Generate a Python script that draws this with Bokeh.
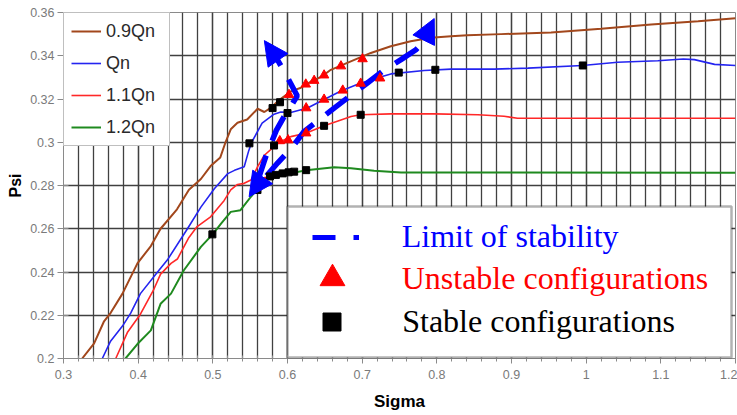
from bokeh.plotting import figure
from bokeh.models import (ColumnDataSource, Legend, LegendItem, FixedTicker,
                          CustomJSTickFormatter, Arrow, NormalHead, BoxAnnotation, Range1d)
from bokeh.embed import file_html
from bokeh.resources import INLINE

# ---------------- data ----------------
q09_x = [0.325, 0.341, 0.354, 0.363, 0.379, 0.399, 0.417, 0.430, 0.452, 0.468, 0.484, 0.497,
         0.510, 0.517, 0.524, 0.533, 0.546, 0.560, 0.569, 0.578, 0.587, 0.6044, 0.618, 0.6313, 0.645,
         0.658, 0.6848, 0.7116, 0.7384, 0.765, 0.792, 0.819, 0.841, 0.886, 0.953, 1.020, 1.087, 1.150, 1.200]
q09_y = [0.200, 0.207, 0.217, 0.221, 0.230, 0.244, 0.252, 0.260, 0.269, 0.278, 0.283, 0.289,
         0.293, 0.300, 0.306, 0.309, 0.3105, 0.3155, 0.3140, 0.316, 0.319, 0.3235, 0.3252, 0.3281, 0.3302,
         0.3335, 0.3374, 0.3413, 0.3444, 0.3467, 0.3483, 0.3490, 0.3495, 0.3500, 0.3508, 0.3525, 0.3545, 0.356, 0.3573]

q10_x = [0.352, 0.363, 0.379, 0.390, 0.403, 0.426, 0.439, 0.466, 0.484, 0.502, 0.520, 0.529,
         0.542, 0.548, 0.552, 0.566, 0.582, 0.591, 0.6044, 0.6268, 0.649, 0.6716, 0.694, 0.716,
         0.7385, 0.783, 0.819, 0.877, 0.922, 0.995, 1.042, 1.096, 1.130, 1.145, 1.172, 1.200]
q10_y = [0.200, 0.208, 0.215, 0.221, 0.230, 0.240, 0.2455, 0.260, 0.270, 0.2785, 0.2855, 0.287,
         0.2887, 0.296, 0.300, 0.3088, 0.3130, 0.3140, 0.3138, 0.3158, 0.3198, 0.3237, 0.3268, 0.3294,
         0.3316, 0.3332, 0.3338, 0.3338, 0.3343, 0.3355, 0.3370, 0.3377, 0.3385, 0.3382, 0.3360, 0.3355]

q11_x = [0.370, 0.3855, 0.403, 0.421, 0.430, 0.444, 0.4525, 0.468, 0.479, 0.497, 0.515, 0.524,
         0.533, 0.542, 0.551, 0.560, 0.569, 0.582, 0.589, 0.6044, 0.6245, 0.649, 0.6716,
         0.685, 0.698, 0.7385, 0.797, 0.855, 0.890, 0.908, 1.200]
q11_y = [0.200, 0.212, 0.2205, 0.232, 0.239, 0.244, 0.246, 0.256, 0.261, 0.2655, 0.273, 0.278,
         0.2805, 0.281, 0.2825, 0.2887, 0.294, 0.298, 0.300, 0.3026, 0.3042, 0.3076, 0.3103,
         0.3119, 0.3127, 0.3131, 0.3131, 0.3127, 0.3120, 0.3111, 0.3111]

q12_x = [0.383, 0.399, 0.417, 0.430, 0.444, 0.461, 0.484, 0.500, 0.511, 0.524, 0.537, 0.551,
         0.560, 0.570, 0.578, 0.604, 0.625, 0.6625, 0.685, 0.716, 0.752, 1.200]
q12_y = [0.200, 0.2067, 0.213, 0.2253, 0.230, 0.2407, 0.2516, 0.2575, 0.2624, 0.2678, 0.2686, 0.2748,
         0.2785, 0.2830, 0.2845, 0.2856, 0.2871, 0.2884, 0.2880, 0.2868, 0.2860, 0.2859]

unstable_x = [0.602, 0.6245, 0.6357, 0.649, 0.6716, 0.7005,
              0.625, 0.649, 0.674, 0.698, 0.724,
              0.5897, 0.6008, 0.625,
              0.570]
unstable_y = [0.3220, 0.3268, 0.3285, 0.3310, 0.3352, 0.3385,
              0.3158, 0.3198, 0.3240, 0.3272, 0.3296,
              0.3006, 0.3010, 0.3042,
              0.2815]

stable_x = [0.580, 0.590,
            0.549, 0.600, 0.749, 0.798, 0.9955,
            0.582, 0.649, 0.698,
            0.4994, 0.5598, 0.5765, 0.5845, 0.5935, 0.6015, 0.6089, 0.625]
stable_y = [0.3158, 0.3185,
            0.2995, 0.3135, 0.3322, 0.3335, 0.3355,
            0.2985, 0.3076, 0.3127,
            0.2574, 0.2779, 0.2842, 0.2849, 0.2856, 0.2861, 0.2864, 0.2871]

limit_a_x = [0.560, 0.571, 0.585, 0.598, 0.607, 0.613, 0.598, 0.586]
limit_a_y = [0.282, 0.2935, 0.3055, 0.3135, 0.318, 0.3215, 0.3312, 0.3385]
limit_b_x = [0.572, 0.587, 0.607, 0.622, 0.6625, 0.680, 0.707, 0.727, 0.752, 0.772, 0.780]
limit_b_y = [0.2845, 0.2905, 0.298, 0.3049, 0.3158, 0.3204, 0.3274, 0.3328, 0.3382, 0.3428, 0.3455]
arrow_x_start = [0.586, 0.780, 0.566]
arrow_y_start = [0.3385, 0.3455, 0.2836]
arrow_x_end = [0.569, 0.7965, 0.5486]
arrow_y_end = [0.3470, 0.3572, 0.2748]

x_ticks = [0.3, 0.4, 0.5, 0.6, 0.7, 0.8, 0.9, 1.0, 1.1, 1.2]
y_ticks = [0.2, 0.22, 0.24, 0.26, 0.28, 0.3, 0.32, 0.34, 0.36]
x_minor = [round(0.3 + 0.02 * i, 2) for i in range(46)]

series_labels = ["0.9Qn", "Qn", "1.1Qn", "1.2Qn"]
series_colors = ["#A2471C", "#2424F0", "#FF2828", "#1F8A1F"]

# ---------------- figure ----------------
p = figure(width=737, height=415, output_backend="svg", toolbar_location=None,
           x_range=Range1d(0.3, 1.2), y_range=Range1d(0.2, 0.36),
           min_border_left=63, min_border_right=2, min_border_top=12, min_border_bottom=57)
p.background_fill_color = "white"
p.border_fill_color = "white"
p.outline_line_color = "#8a8a8a"

fmt = CustomJSTickFormatter(code="return String(Number(tick.toFixed(2)));")
xt = FixedTicker(ticks=x_ticks, minor_ticks=x_minor)
yt = FixedTicker(ticks=y_ticks, minor_ticks=[])
p.xaxis.ticker = xt
p.yaxis.ticker = yt
p.xgrid.ticker = xt
p.ygrid.ticker = yt
p.xaxis.formatter = fmt
p.yaxis.formatter = fmt

for g in (p.xgrid, p.ygrid):
    g.grid_line_color = "#404040"
    g.grid_line_width = 1.3
p.xgrid.minor_grid_line_color = "#404040"
p.xgrid.minor_grid_line_width = 1.3

for ax in (p.xaxis, p.yaxis):
    ax.axis_line_color = "#8a8a8a"
    ax.major_tick_line_color = "#8a8a8a"
    ax.minor_tick_line_color = "#8a8a8a"
    ax.major_label_text_color = "#7a7a7a"
    ax.major_label_text_font = "Liberation Sans"
    ax.major_label_text_font_size = "12.5px"
    ax.axis_label_text_font = "Liberation Sans"
    ax.axis_label_text_font_style = "bold"
    ax.axis_label_text_color = "black"

p.xaxis.major_tick_in = 3
p.xaxis.major_tick_out = 5
p.xaxis.minor_tick_in = 3
p.xaxis.minor_tick_out = 3
p.xaxis.major_label_standoff = 6
p.xaxis.axis_label = "Sigma"
p.xaxis.axis_label_text_font_size = "17px"
p.xaxis.axis_label_standoff = 10

p.yaxis.major_tick_in = 5
p.yaxis.major_tick_out = 6
p.yaxis.minor_tick_in = 0
p.yaxis.minor_tick_out = 0
p.yaxis.major_label_standoff = 3
p.yaxis.axis_label = "Psi"
p.yaxis.axis_label_text_font_size = "16px"
p.yaxis.axis_label_standoff = 3

# curves
series = [(q09_x, q09_y, 2.0), (q10_x, q10_y, 1.6), (q11_x, q11_y, 1.6), (q12_x, q12_y, 2.0)]
curve_renderers = []
for (xs, ys, lw), col in zip(series, series_colors):
    curve_renderers.append(p.line(xs, ys, line_color=col, line_width=lw))

# limit of stability dashed paths
for xs, ys in ((limit_a_x, limit_a_y), (limit_b_x, limit_b_y)):
    p.line(xs, ys, line_color="#0000FF", line_width=5.5, line_dash="27 16")

# markers
r_unstable = p.scatter(unstable_x, unstable_y, marker="triangle", size=9.5,
                       fill_color="#FF0000", line_color="#FF0000")
r_stable = p.scatter(stable_x, stable_y, marker="square", size=7,
                     fill_color="black", line_color="black")

arrow_src = ColumnDataSource(dict(xs=arrow_x_start, ys=arrow_y_start, xe=arrow_x_end, ye=arrow_y_end))
p.add_layout(Arrow(end=NormalHead(size=24, fill_color="#0000FF", line_color="#0000FF"),
                   x_start="xs", y_start="ys", x_end="xe", y_end="ye", source=arrow_src,
                   line_color="#0000FF", line_alpha=0))

# legend proxy (no visible data) for the dash-dot key symbol
nan = float("nan")
r_limit_proxy = p.line([nan], [nan], line_color="#0000FF", line_width=5, line_dash="23 18 6 100")

# top-left series legend
leg = Legend(items=[LegendItem(label=l, renderers=[r]) for l, r in zip(series_labels, curve_renderers)],
             location="top_left", margin=0, padding=7, spacing=10,
             glyph_width=30, glyph_height=22, label_height=22, label_width=56, label_standoff=5,
             label_text_font="Liberation Sans", label_text_font_size="18px", label_text_color="#2a2a2a",
             border_line_color="#808080", border_line_width=1,
             background_fill_color="white", background_fill_alpha=1)
p.add_layout(leg, "center")

# bottom-right key box
p.add_layout(BoxAnnotation(left=224, right=668, bottom=1, top=152,
                           left_units="screen", right_units="screen",
                           bottom_units="screen", top_units="screen",
                           fill_color="white", fill_alpha=1,
                           line_color="black", line_width=2.5))

common = dict(margin=0, padding=0, border_line_color=None, background_fill_alpha=0,
              label_text_font="Liberation Serif", label_text_font_size="32px")
p.add_layout(Legend(items=[LegendItem(label="Limit of stability", renderers=[r_limit_proxy])],
                    location=(248.7, 91.3), glyph_width=47, glyph_height=60, label_height=60,
                    label_standoff=43, label_text_color="#0000FF", **common), "center")
p.add_layout(Legend(items=[LegendItem(label="Unstable configurations", renderers=[r_unstable])],
                    location=(237.7, 49), glyph_width=62, glyph_height=62, label_height=62,
                    label_standoff=39, label_text_color="#FF0000", **common), "center")
p.add_layout(Legend(items=[LegendItem(label="Stable configurations", renderers=[r_stable])],
                    location=(246.2, 13.8), glyph_width=45, glyph_height=45, label_height=45,
                    label_standoff=48, label_text_color="black", **common), "center")

open("out.html", "w").write(file_html(p, INLINE))
